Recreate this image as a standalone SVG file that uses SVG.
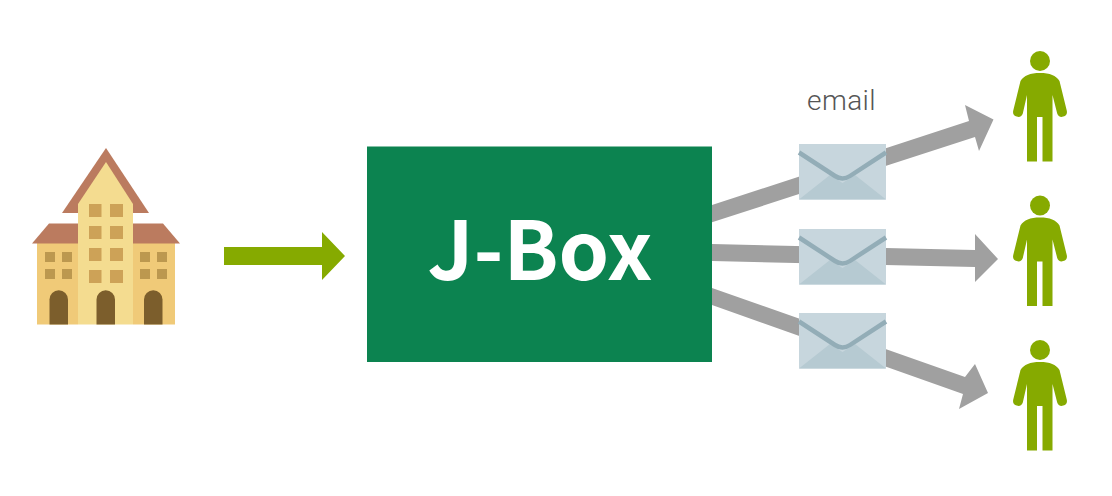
<svg xmlns="http://www.w3.org/2000/svg" width="1112" height="496" viewBox="0 0 1112 496">
<style>
.conn{fill:#a0a0a0}
.roof{fill:#bb7b5f}
.wc{fill:#cda257}
.ws{fill:#bc984f}
.door{fill:#7c5e2c}
.env{fill:#c7d6dd}
.flap{fill:#b6cad2}
.fold{fill:none;stroke:#93adb7;stroke-width:4.5;stroke-linejoin:round}
.person{fill:#86aa00}
</style>
<defs>
<g id="envelope">
<rect class="env" x="0" y="0" width="87" height="55.500"/>
<path class="flap" d="M0 55.500 L31 31 L43.500 39 L56 31 L87 55.500Z"/>
<path class="fold" d="M0 8.500 L36 32 Q43.500 37 51 32 L87 8.500"/>
</g>
<g id="man">
<circle cx="1040" cy="61" r="10"/>
<path d="M1040 73C1030 73 1024 75.500 1020.500 81L1013.200 110.800A5 5 0 0 0 1022.800 113.500L1027 95V161.500H1037V117H1042.500V161.500H1052.500V95L1057.200 113.500A5 5 0 0 0 1066.800 110.800L1059.500 81C1056 75.500 1050 73 1040 73Z"/>
</g>
</defs>
<rect width="1112" height="496" fill="#fff"/>
<g id="connectors">
<path fill="#86aa00" d="M224 247H322V232L345 256L322 280V265H224Z"/>
<path class="conn" d="M712 205L969 121L965 105L993.500 119.500L979 151L975 137L712 222.300Z"/>
<path class="conn" d="M712 244L975 250V234L998 259L975 282V267L712 261Z"/>
<path class="conn" d="M712 288L965 377L975 364L988 393L959 409L963 394L712 305Z"/>
</g>
<g id="building">
<path class="roof" d="M106 148L149 213H62Z"/>
<path fill="#f4dc90" d="M106 162L133 204V324.500H78V204Z"/>
<rect x="37" y="243" width="41" height="81.500" fill="#f0ca78"/>
<rect x="133" y="243" width="42" height="81.500" fill="#f0ca78"/>
<path class="roof" d="M32 243.500L49 223.500H78V243.500Z"/>
<path class="roof" d="M133 223.500H163L180 243.500H133Z"/>
<g class="wc">
<rect x="89" y="204" width="12.500" height="13"/><rect x="110" y="204" width="13" height="13"/>
<rect x="89" y="226" width="12.500" height="13"/><rect x="110" y="226" width="13" height="13"/>
<rect x="89" y="248" width="12.500" height="13"/><rect x="110" y="248" width="13" height="13"/>
<rect x="89" y="270" width="12.500" height="13"/><rect x="110" y="270" width="13" height="13"/>
</g>
<g class="ws">
<rect x="45" y="252" width="10" height="10"/><rect x="62" y="252" width="10" height="10"/>
<rect x="45" y="269" width="10" height="10"/><rect x="62" y="269" width="10" height="10"/>
<rect x="140" y="252" width="10" height="10"/><rect x="157" y="252" width="10" height="10"/>
<rect x="140" y="269" width="10" height="10"/><rect x="157" y="269" width="10" height="10"/>
</g>
<g class="door">
<path d="M49.500 324.500V299.500A9.250 9.250 0 0 1 68 299.500V324.500Z"/>
<path d="M96.500 324.500V299.500A9.250 9.250 0 0 1 115 299.500V324.500Z"/>
<path d="M144 324.500V299.500A9.250 9.250 0 0 1 162.500 299.500V324.500Z"/>
</g>
</g>
<g id="j-box">
<rect x="367" y="146.500" width="345" height="215.500" fill="#0c8350"/>
<text x="540" y="279.500" text-anchor="middle" font-family="'Noto Sans CJK JP','Noto Sans',sans-serif" font-size="81" font-weight="700" fill="#fff">J-Box</text>
</g>
<g id="email-label">
<text x="841.500" y="110" text-anchor="middle" font-family="Roboto,'Liberation Sans',sans-serif" font-size="28" font-weight="300" letter-spacing="0.400" fill="#555">email</text>
</g>
<g id="envelope-1"><use href="#envelope" x="799" y="144"/></g>
<g id="envelope-2"><use href="#envelope" x="799" y="229"/></g>
<g id="envelope-3"><use href="#envelope" x="799" y="313"/></g>
<g id="person-1" class="person"><use href="#man"/></g>
<g id="person-2" class="person"><use href="#man" y="144.500"/></g>
<g id="person-3" class="person"><use href="#man" y="289"/></g>
</svg>
